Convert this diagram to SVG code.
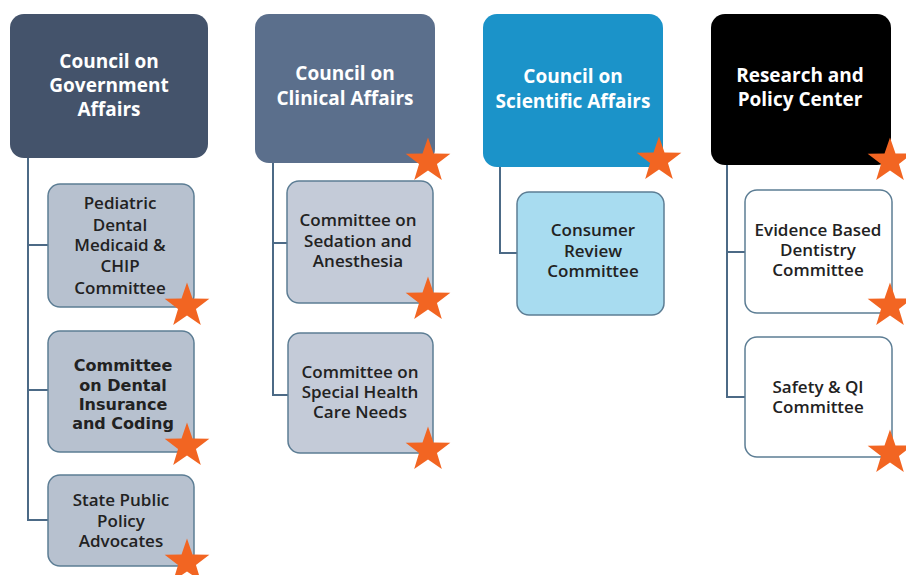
<svg xmlns="http://www.w3.org/2000/svg" width="906" height="575" viewBox="0 0 906 575">
<defs>
<style>
.council text{font-family:"Open Sans","Liberation Sans",sans-serif;font-weight:700;font-size:19px;fill:#ffffff;text-anchor:middle}
.child text{font-family:"Open Sans","Liberation Sans",sans-serif;font-weight:600;font-size:17px;fill:#222222;text-anchor:middle}
.child text.bold{font-family:"DejaVu Sans","Verdana",sans-serif;font-weight:700;font-size:16px}
.cbox{stroke:#5c7d94;stroke-width:1.5}
.conn{fill:none;stroke:#4c6a86;stroke-width:2}
.star{fill:#f26522}
</style>
<polygon id="star" points="0,-23.5 5.5,-7.6 22.35,-7.26 8.95,2.9 13.81,19.01 0,9.4 -13.81,19.01 -8.95,2.9 -22.35,-7.26 -5.5,-7.6"/>
</defs>
<rect width="906" height="575" fill="#ffffff"/>

<g id="connectors" class="conn">
<path d="M28,158 V520 H48 M28,245 H48 M28,390 H48"/>
<path d="M273,163 V395 H288 M273,243 H287"/>
<path d="M500,167 V253 H517"/>
<path d="M727,165 V397 H745 M727,252 H745"/>
</g>

<g id="council-government" class="council">
<rect x="10" y="14" width="198" height="144" rx="14" fill="#44536b"/>
<text x="109" y="68">Council on</text>
<text x="109" y="92">Government</text>
<text x="109" y="116">Affairs</text>
</g>
<g id="council-clinical" class="council">
<rect x="255" y="14" width="180" height="149" rx="14" fill="#5b6f8c"/>
<text x="345" y="80">Council on</text>
<text x="345" y="105">Clinical Affairs</text>
<use href="#star" class="star" x="428" y="161"/>
</g>
<g id="council-scientific" class="council">
<rect x="483" y="14" width="180" height="153" rx="14" fill="#1b93c9"/>
<text x="573" y="83">Council on</text>
<text x="573" y="108">Scientific Affairs</text>
<use href="#star" class="star" x="659" y="160"/>
</g>
<g id="research-policy" class="council">
<rect x="711" y="14" width="180" height="151" rx="14" fill="#000000"/>
<text x="800" y="82">Research and</text>
<text x="800" y="106">Policy Center</text>
<use href="#star" class="star" x="890" y="161"/>
</g>

<g id="pediatric-medicaid" class="child">
<rect class="cbox" x="48" y="184" width="146" height="123" rx="12" fill="#b7c1cf"/>
<text x="120" y="209">Pediatric</text>
<text x="120" y="231">Dental</text>
<text x="120" y="251">Medicaid &amp;</text>
<text x="120" y="272">CHIP</text>
<text x="120" y="294">Committee</text>
<use href="#star" class="star" x="187" y="306"/>
</g>
<g id="dental-insurance" class="child">
<rect class="cbox" x="48" y="331" width="146" height="121" rx="12" fill="#b7c1cf"/>
<text class="bold" x="123" y="371">Committee</text>
<text class="bold" x="123" y="391">on Dental</text>
<text class="bold" x="123" y="410">Insurance</text>
<text class="bold" x="123" y="429">and Coding</text>
<use href="#star" class="star" x="187" y="446"/>
</g>
<g id="state-public-policy" class="child">
<rect class="cbox" x="48" y="475" width="146" height="91" rx="12" fill="#b7c1cf"/>
<text x="121" y="506">State Public</text>
<text x="121" y="527">Policy</text>
<text x="121" y="547">Advocates</text>
<use href="#star" class="star" x="187" y="562"/>
</g>

<g id="sedation-anesthesia" class="child">
<rect class="cbox" x="287" y="181" width="146" height="122" rx="12" fill="#c4cbd8"/>
<text x="358" y="226">Committee on</text>
<text x="358" y="247">Sedation and</text>
<text x="358" y="267">Anesthesia</text>
<use href="#star" class="star" x="428" y="300"/>
</g>
<g id="special-health-care" class="child">
<rect class="cbox" x="288" y="333" width="145" height="120" rx="12" fill="#c4cbd8"/>
<text x="360" y="378">Committee on</text>
<text x="360" y="398">Special Health</text>
<text x="360" y="418">Care Needs</text>
<use href="#star" class="star" x="428" y="450"/>
</g>

<g id="consumer-review" class="child">
<rect class="cbox" x="517" y="192" width="147" height="123" rx="12" fill="#a8dcf0"/>
<text x="593" y="236">Consumer</text>
<text x="593" y="257">Review</text>
<text x="593" y="277">Committee</text>
</g>

<g id="evidence-based" class="child">
<rect class="cbox" x="745" y="190" width="147" height="123" rx="12" fill="#ffffff"/>
<text x="818" y="236">Evidence Based</text>
<text x="818" y="256">Dentistry</text>
<text x="818" y="276">Committee</text>
<use href="#star" class="star" x="890" y="306"/>
</g>
<g id="safety-qi" class="child">
<rect class="cbox" x="745" y="337" width="147" height="120" rx="12" fill="#ffffff"/>
<text x="818" y="393">Safety &amp; QI</text>
<text x="818" y="413">Committee</text>
<use href="#star" class="star" x="890" y="453"/>
</g>
</svg>
